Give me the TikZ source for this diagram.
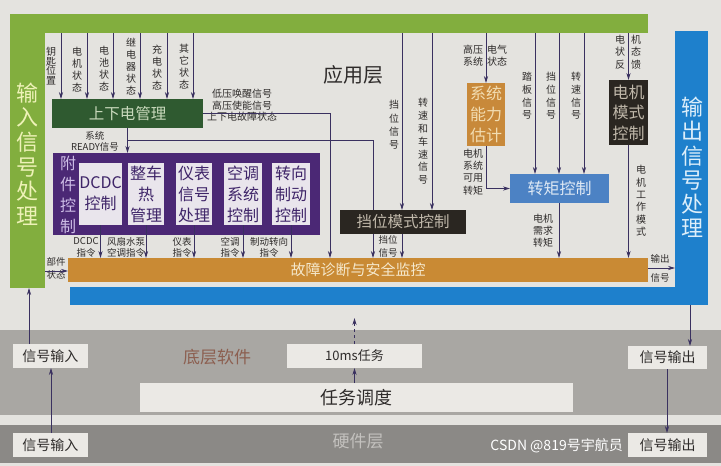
\documentclass[tikz,border=0pt]{standalone}
\usepackage{fontspec}
\setmainfont{Noto Sans CJK SC}
\usetikzlibrary{arrows.meta}
\definecolor{bg}{HTML}{E4E3DF}
\definecolor{grn}{HTML}{82AE3E}
\definecolor{grntxt}{HTML}{EEF2B8}
\definecolor{dgrn}{HTML}{2F5A30}
\definecolor{dgrntxt}{HTML}{C9D9BC}
\definecolor{purp}{HTML}{4B2875}
\definecolor{purptxt}{HTML}{CDBDE6}
\definecolor{ptxt}{HTML}{3E2468}
\definecolor{pbox}{HTML}{E9E5EC}
\definecolor{orng}{HTML}{C98A34}
\definecolor{orngtxt}{HTML}{F5E8CC}
\definecolor{capc}{HTML}{C8893A}
\definecolor{captxt}{HTML}{F2DDB2}
\definecolor{blu}{HTML}{1E80CC}
\definecolor{blutxt}{HTML}{DCEEFA}
\definecolor{tblu}{HTML}{4C82C4}
\definecolor{tblutxt}{HTML}{E0EAF5}
\definecolor{dark}{HTML}{2A2621}
\definecolor{darktxt}{HTML}{C0B8AA}
\definecolor{arrc}{HTML}{3A3160}
\definecolor{gry}{HTML}{A9A7A3}
\definecolor{dgry}{HTML}{8B8986}
\definecolor{lbox}{HTML}{EBE9E5}
\definecolor{txt}{HTML}{2E2B2A}
\definecolor{brn}{HTML}{8C5F50}
\definecolor{hwtxt}{HTML}{C3C1BE}
\newcommand\myfs[2]{\fontsize{#1}{#2}\selectfont}
\begin{document}
\begin{tikzpicture}[x=1pt,y=-1pt,
  arr/.style={draw=arrc, line width=0.8pt, -{Stealth[length=7pt,width=4.2pt]}},
  bx/.style={rectangle, inner sep=0pt, outer sep=0pt},
  lbl/.style={inner sep=0pt, align=center, text=txt},
  big/.style={inner sep=0pt, align=center, font=\myfs{16}{21}}
]
\useasboundingbox (0,0) rectangle (721,466);
\fill[bg] (0,0) rectangle (721,466);

% lower bands
\fill[gry] (0,330) rectangle (721,415);
\fill[dgry] (0,425) rectangle (721,463);

% green input layer
\node[bx, fill=grn, minimum width=638pt, minimum height=19pt] (gtop) at (329,23.5) {};
\node[bx, fill=grn, minimum width=35pt, minimum height=274pt] (gleft) at (27.5,151) {};
\node[lbl, text=grntxt, font=\myfs{22}{24.6}] (gtxt) at (27.5,154) {输\\入\\信\\号\\处\\理};

% blue output layer
\node[bx, fill=blu, minimum width=33pt, minimum height=274pt] (bright) at (691.5,168) {};
\node[bx, fill=blu, minimum width=638pt, minimum height=18pt] (bbot) at (389,296) {};
\node[lbl, text=blutxt, font=\myfs{22}{24.2}] (btxt) at (692,167.5) {输\\出\\信\\号\\处\\理};

% fault bar
\node[bx, fill=orng, minimum width=580pt, minimum height=24pt, text=orngtxt, font=\myfs{15}{18}] (fault) at (358,270) {故障诊断与安全监控};

\node[lbl, font=\myfs{20}{24}] (app) at (353,75) {应用层};

% power management
\node[bx, fill=dgrn, minimum width=151pt, minimum height=29pt, text=dgrntxt, font=\myfs{15.5}{18}] (pwr) at (127.5,113.5) {上下电管理};
\node[lbl, font=\myfs{10}{9.5}] (l1) at (51,66) {钥\\匙\\位\\置};
\node[lbl, font=\myfs{10}{12}] (l2) at (77,70) {电\\机\\状\\态};
\node[lbl, font=\myfs{10}{12}] (l3) at (104,69) {电\\池\\状\\态};
\node[lbl, font=\myfs{10}{12}] (l4) at (131,67) {继\\电\\器\\状\\态};
\node[lbl, font=\myfs{10}{12}] (l5) at (157,68) {充\\电\\状\\态};
\node[lbl, font=\myfs{10}{12}] (l6) at (184,67) {其\\它\\状\\态};
\foreach \x in {61,87,113,140,167,193}
  \draw[arr] (gtop.south -| \x,0) -- (pwr.north -| \x,0);

\node[lbl, font=\myfs{10}{11.5}] (pwrlbl) at (242,105.5) {低压唤醒信号\\高压使能信号\\上下电故障状态};
\node[lbl, font=\myfs{9.5}{11}] (rdylbl) at (95,141.5) {系统\\READY信号};

% accessory control
\node[bx, fill=purp, minimum width=267pt, minimum height=82pt] (acc) at (186.5,194) {};
\node[lbl, text=purptxt, font=\myfs{16}{21}] (acctxt) at (68,195) {附\\件\\控\\制};
\node[bx, big, fill=pbox, text=ptxt, minimum width=37pt, minimum height=62pt] (dcdc) at (100.5,194) {DCDC\\控制};
\node[bx, big, fill=pbox, text=ptxt, minimum width=36pt, minimum height=62pt] (heat) at (146,194) {整车\\热\\管理};
\node[bx, big, fill=pbox, text=ptxt, minimum width=36pt, minimum height=62pt] (inst) at (194,194) {仪表\\信号\\处理};
\node[bx, big, fill=pbox, text=ptxt, minimum width=38pt, minimum height=62pt] (ac) at (243,194) {空调\\系统\\控制};
\node[bx, big, fill=pbox, text=ptxt, minimum width=38pt, minimum height=62pt] (steer) at (291,194) {转向\\制动\\控制};

\draw[arr] (pwr.south) -- (acc.north -| pwr.south);
\draw[arr] (pwr.east) -| (fault.north -| 330,0);
\draw[arr] (pwr.south |- 0,140) -| (fault.north -| 373,0);

\foreach \n in {dcdc,heat,inst,ac,steer}
  \draw[arr] (\n.south) -- (fault.north -| \n.south);
\node[lbl, font=\myfs{9.5}{11.5}] (c1) at (86,247.5) {DCDC\\指令};
\node[lbl, font=\myfs{9.5}{11.5}] (c2) at (126,247.5) {风扇水泵\\空调指令};
\node[lbl, font=\myfs{9.5}{11.5}] (c3) at (182,247.5) {仪表\\指令};
\node[lbl, font=\myfs{9.5}{11.5}] (c4) at (230,247.5) {空调\\指令};
\node[lbl, font=\myfs{9.5}{11.5}] (c5) at (269,247.5) {制动转向\\指令};

\node[lbl, font=\myfs{9.5}{12.5}] (bj) at (56,268.5) {部件\\状态};
\draw[arr] (gleft.east |- 0,271) -- (fault.west |- 0,271);

% gear mode
\node[bx, fill=dark, minimum width=126pt, minimum height=24pt, text=darktxt, font=\myfs{15.5}{18}] (gear) at (403,222) {挡位模式控制};
\foreach \x in {402,432}
  \draw[arr] (gtop.south -| \x,0) -- (gear.north -| \x,0);
\node[lbl, font=\myfs{10}{13.3}] (gl1) at (394,125) {挡\\位\\信\\号};
\node[lbl, font=\myfs{10}{12.8}] (gl2) at (423,141.5) {转\\速\\和\\车\\速\\信\\号};
\draw[arr] (gear.south -| 402,0) -- (fault.north -| 402,0);
\node[lbl, font=\myfs{9.5}{12.5}] (gl3) at (388,246.5) {挡位\\信号};

% capability estimate
\node[bx, big, fill=capc, text=captxt, minimum width=38pt, minimum height=63pt] (cap) at (486,114.5) {系统\\能力\\估计};
\draw[arr] (gtop.south -| cap.north) -- (cap.north);
\node[lbl, font=\myfs{10}{12}] (cl1) at (473,56) {高压\\系统};
\node[lbl, font=\myfs{10}{12}] (cl2) at (497,56) {电气\\状态};
\node[lbl, font=\myfs{10}{12.3}] (cl3) at (473,172) {电机\\系统\\可用\\转矩};

% torque control
\node[bx, fill=tblu, minimum width=99pt, minimum height=29pt, text=tblutxt, font=\myfs{16}{18}] (torque) at (559.5,188.5) {转矩控制};
\draw[arr] (cap.south) |- (torque.west);
\foreach \x in {535,559,584}
  \draw[arr] (gtop.south -| \x,0) -- (torque.north -| \x,0);
\node[lbl, font=\myfs{10}{12.7}] (tl1) at (527,96) {踏\\板\\信\\号};
\node[lbl, font=\myfs{10}{12.7}] (tl2) at (551,96) {挡\\位\\信\\号};
\node[lbl, font=\myfs{10}{12.7}] (tl3) at (576,96) {转\\速\\信\\号};
\draw[arr] (torque.south -| 559,0) -- (fault.north -| 559,0);
\node[lbl, font=\myfs{10}{12}] (tl4) at (543,231) {电机\\需求\\转矩};

% motor mode
\node[bx, big, fill=dark, text=darktxt, minimum width=39pt, minimum height=65pt, font=\myfs{16}{20.5}] (motor) at (628.5,112.5) {电机\\模式\\控制};
\draw[arr] (gtop.south -| motor.north) -- (motor.north);
\node[lbl, font=\myfs{10}{12.5}] (ml1) at (620,52) {电\\状\\反};
\node[lbl, font=\myfs{10}{12.5}] (ml2) at (636,52) {机\\态\\馈};
\draw[arr] (motor.south) -- (fault.north -| motor.south);
\node[lbl, font=\myfs{10}{12.4}] (ml3) at (641,201) {电\\机\\工\\作\\模\\式};

\node[lbl, font=\myfs{9.5}{19}] (ol) at (660,268.5) {输出\\信号};
\draw[arr] (fault.east |- 0,268) -- (bright.west |- 0,268);

% lower software / hardware
\node[bx, fill=lbox, minimum width=75pt, minimum height=24pt, text=txt, font=\myfs{14}{16}] (si1) at (50.5,356) {信号输入};
\node[bx, fill=lbox, minimum width=75pt, minimum height=24pt, text=txt, font=\myfs{14}{16}] (si2) at (50.5,445) {信号输入};
\node[bx, fill=lbox, minimum width=135pt, minimum height=24pt, text=txt, font=\myfs{13}{16}] (t10) at (354.5,356) {10ms任务};
\node[bx, fill=lbox, minimum width=433pt, minimum height=29pt, text=txt, font=\myfs{18}{20}] (sched) at (356.5,397.5) {任务调度};
\node[bx, fill=lbox, minimum width=79pt, minimum height=23pt, text=txt, font=\myfs{14}{16}] (so1) at (667.5,357.5) {信号输出};
\node[bx, fill=lbox, minimum width=79pt, minimum height=24pt, text=txt, font=\myfs{14}{16}] (so2) at (667.5,445) {信号输出};
\node[lbl, text=brn, font=\myfs{17}{20}] (bsw) at (217,357) {底层软件};
\node[lbl, text=hwtxt, font=\myfs{17}{20}] (hw) at (358,441) {硬件层};
\node[lbl, text=white, font=\myfs{14}{17}, anchor=east] (wm) at (623,446) {CSDN @819号宇航员};

\draw[arr] (si1.north -| 29,0) -- (gleft.south -| 29,0);
\draw[arr] (si2.north -| 51,0) -- (si1.south -| 51,0);
\draw[arr] (sched.north -| t10.south) -- (t10.south);
\coordinate (dtip) at (354.5,318);
\draw[arr, dashed] (t10.north) -- (dtip);
\draw[arr] (bbot.south -| 690,0) -- (so1.north -| 690,0);
\draw[arr] (so1.south -| 667,0) -- (so2.north -| 667,0);
\end{tikzpicture}
\end{document}
